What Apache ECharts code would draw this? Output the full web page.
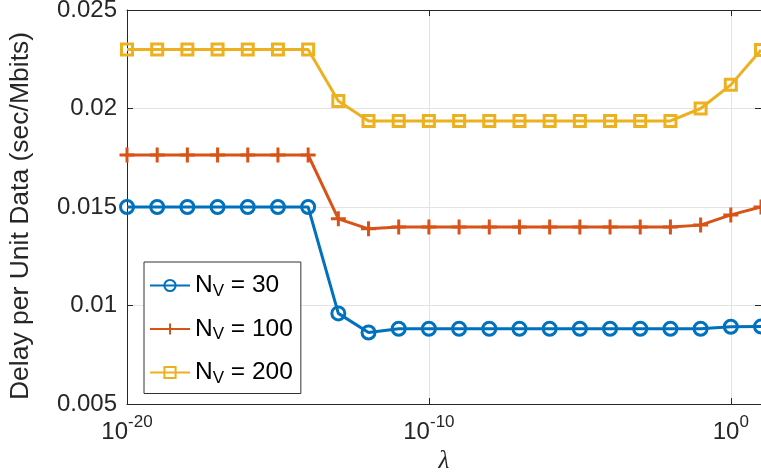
<!DOCTYPE html>
<html><head><meta charset="utf-8">
<script src="https://cdn.jsdelivr.net/npm/echarts@6/dist/echarts.min.js"></script>
<style>html,body{margin:0;padding:0;background:#fff}#c{width:761px;height:476px}</style>
</head><body><div id="c"></div>
<script>
const lambdaExp = [-20,-19,-18,-17,-16,-15,-14,-13,-12,-11,-10,-9,-8,-7,-6,-5,-4,-3,-2,-1,0,1];
const lambdaVals = lambdaExp.map(e => Math.pow(10, e));
const seriesNames = ['N_V = 30', 'N_V = 100', 'N_V = 200'];
const nv30  = [0.0150,0.0150,0.0150,0.0150,0.0150,0.0150,0.0150,0.0096,0.00863,0.00882,0.00882,0.00882,0.00882,0.00882,0.00882,0.00882,0.00882,0.00882,0.00882,0.00882,0.00892,0.00893];
const nv100 = [0.01764,0.01764,0.01764,0.01764,0.01764,0.01764,0.01764,0.0144,0.01389,0.01398,0.01398,0.01398,0.01398,0.01398,0.01398,0.01398,0.01398,0.01398,0.01398,0.01408,0.0146,0.0150];
const nv200 = [0.0230,0.0230,0.0230,0.0230,0.0230,0.0230,0.0230,0.02038,0.01937,0.01937,0.01937,0.01937,0.01937,0.01937,0.01937,0.01937,0.01937,0.01937,0.01937,0.0200,0.0212,0.02297];
const yTicks = [0.005, 0.01, 0.015, 0.02, 0.025];

const colors = ['#0072BD', '#D95319', '#EDB120'];
const symbols = ['circle', 'path://M5,0L5,10M0,5L10,5', 'rect'];
const symSizes = [13, 15, 11];
const FONT = 'Liberation Sans, Arial, sans-serif';
const axisCol = '#262626';

const chart = echarts.init(document.getElementById('c'), null, {renderer: 'canvas'});
const dataSets = [nv30, nv100, nv200];

function xLabelFmt(v) {
  const e = Math.round(Math.log10(v));
  if (e % 10 !== 0) return '';
  return '{b|10}{s|' + e + '}';
}

const series = dataSets.map((d, i) => ({
  name: seriesNames[i],
  type: 'line',
  data: lambdaVals.map((x, j) => [x, d[j]]),
  symbol: symbols[i],
  symbolSize: symSizes[i],
  showAllSymbol: true,
  lineStyle: {color: colors[i], width: 3},
  itemStyle: {color: 'rgba(0,0,0,0)', borderColor: colors[i], borderWidth: 3},
  emphasis: {disabled: true},
  animation: false,
  z: 3
}));

const xCommon = {
  type: 'log', logBase: 10, min: 1e-20, max: 1e1, interval: 10,
  axisLine: {show: true, lineStyle: {color: axisCol, width: 1}},
  axisTick: {show: true, inside: true, length: 6, lineStyle: {color: axisCol}},
  minorTick: {show: false}
};
const yCommon = {
  type: 'value', min: 0.005, max: 0.025, interval: 0.005,
  axisLine: {show: true, lineStyle: {color: axisCol, width: 1}},
  axisTick: {show: true, inside: true, length: 6, lineStyle: {color: axisCol}}
};

chart.setOption({
  animation: false,
  backgroundColor: '#fff',
  textStyle: {fontFamily: FONT},
  grid: {left: 127, right: 0, top: 10, bottom: 72, containLabel: false, outerBoundsMode: 'none'},
  xAxis: [
    Object.assign({}, xCommon, {
      position: 'bottom',
      name: 'λ', nameLocation: 'middle', nameGap: 44,
      nameTextStyle: {fontFamily: 'Liberation Serif, serif', fontStyle: 'italic', fontSize: 25, color: axisCol},
      splitLine: {show: true, lineStyle: {color: '#e3e3e3', width: 1}},
      axisLabel: {
        margin: 10,
        formatter: xLabelFmt,
        showMaxLabel: false,
        rich: {
          b: {fontSize: 24, fontFamily: FONT, color: axisCol, lineHeight: 30, verticalAlign: 'bottom'},
          s: {fontSize: 17, fontFamily: FONT, color: axisCol, lineHeight: 30, verticalAlign: 'top'}
        }
      }
    }),
    Object.assign({}, xCommon, {
      position: 'top', axisLabel: {show: false}, splitLine: {show: false}
    })
  ],
  yAxis: [
    Object.assign({}, yCommon, {
      position: 'left',
      name: 'Delay per Unit Data (sec/Mbits)', nameLocation: 'middle', nameGap: 93,
      nameTextStyle: {fontSize: 26.5, color: axisCol, fontFamily: FONT, padding: [0, 18, 0, 0]},
      splitLine: {show: true, lineStyle: {color: '#e3e3e3', width: 1}},
      axisLabel: {fontSize: 24, color: axisCol, margin: 10, fontFamily: FONT}
    }),
    Object.assign({}, yCommon, {
      position: 'right', axisLabel: {show: false}, splitLine: {show: false}
    })
  ],
  legend: {
    show: true,
    orient: 'vertical',
    left: 144, top: 262,
    padding: [11, 8, 7, 5],
    itemWidth: 40, itemHeight: 14, itemGap: 17,
    backgroundColor: '#fff',
    borderColor: '#333', borderWidth: 1,
    borderRadius: 0,
    data: seriesNames,
    formatter: function (n) {
      const m = n.match(/N_V = (\d+)/);
      return '{n|N}{v|V}{t| = ' + m[1] + '}';
    },
    textStyle: {
      color: '#000',
      fontFamily: FONT,
      rich: {
        n: {fontSize: 24.5, fontFamily: FONT, color: '#000', lineHeight: 28},
        v: {fontSize: 17, fontFamily: FONT, color: '#000', lineHeight: 28, verticalAlign: 'bottom', padding: [0,0,0,0]},
        t: {fontSize: 24.5, fontFamily: FONT, color: '#000', lineHeight: 28}
      }
    }
  },
  series: series
});
</script></body></html>
